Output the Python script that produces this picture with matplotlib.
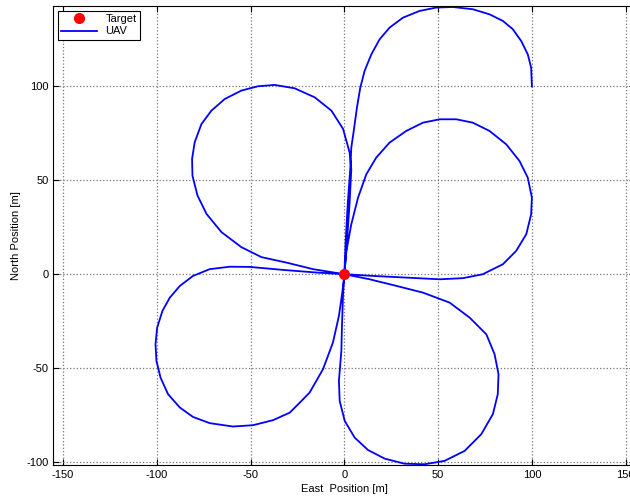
import numpy as np
import matplotlib
matplotlib.use("Agg")
import matplotlib.pyplot as plt

plt.rcParams['font.family'] = ['Liberation Sans', 'DejaVu Sans']
plt.rcParams['axes.unicode_minus'] = False

# target position
target_e = [0.0]
target_n = [0.0]

# UAV path (east, north in metres)
top_e = [100, 99.6, 97.8, 94.3, 89.8, 84.5, 77.4, 68.5, 57.9, 49, 40.1, 31.2, 24.1,
         18.8, 14.4, 10.8, 8.5, 6.7, 5.0, 3.7, 3.2, 1.9, 0.7, 0]
top_n = [100, 110, 117.1, 124.2, 130.5, 134.9, 138.4, 141.1, 142.3, 142, 140.2, 136.6,
         131.3, 125.1, 117.1, 108.3, 99.4, 88.7, 76.3, 67.4, 56.8, 39, 17.7, 0]

south_e = [-0.7, -1.3, -1.6, -2.9, -2.5, 0.2, 5.5, 12.6, 21.5, 32.1, 42.8, 53.4,
           64.1, 73.0, 79.2, 81.8, 82.2, 80.1, 75.7, 66.8, 56.1, 41.9, 27.7, 13.5, 0]
south_n = [-10.6, -28.4, -40.8, -56.8, -67.5, -78.1, -87, -93.6, -98.2, -100.9,
           -101.2, -99.4, -94.1, -85.2, -74.5, -63.9, -53.2, -42.6, -32, -23.1, -15.1,
           -9.8, -6.2, -2.7, 0]

west_e = [-14.9, -32.7, -50.5, -61.1, -71.8, -80.7, -87.7, -93.1, -97, -99.8, -100.7,
          -100.2, -98, -94, -87.7, -80.7, -71.8, -59.4, -48.7, -38, -29.1, -23.8,
          -18.5, -11.4, -6.1, -2.9, -1.1, 0]
west_n = [0.9, 2.3, 3.9, 4.0, 2.7, -0.9, -6.2, -12.5, -19.5, -28.4, -37.3, -46.2,
          -55.1, -63.9, -71, -76, -79.3, -81.1, -80.4, -77.7, -73.7, -68.4, -63,
          -50.6, -36.4, -22.2, -9.8, 0]

ne_e = [1.1, 3.7, 7.3, 11.7, 17, 24.1, 33, 41.9, 50.8, 59.7, 68.5, 77.4, 86.3, 93.4,
        97.8, 100, 99.6, 97, 91.6, 84.5, 73.8, 63.2, 50.8, 33, 15.2, 0]
ne_n = [12.4, 26.6, 40.8, 53.2, 62.1, 70.1, 76.3, 80.7, 82.5, 82.5, 80.7, 76.3, 69.2,
        60.3, 51.4, 40.8, 31.9, 21.3, 12.4, 5.3, 0, -2.1, -2.7, -1.8, -0.9, 0]

nw_e = [-16.7, -30.9, -44.2, -54.9, -65.5, -73.5, -78.3, -81, -81.2, -79.8, -76.2,
        -70.9, -63.8, -54.9, -46, -37.1, -26.5, -15.8, -6.9, -0.7, 2.8, 3.7, 2.8,
        1.6, 0]
nw_n = [2.7, 6.2, 9.1, 14.4, 22.4, 32.1, 41.9, 52.5, 61.4, 70.3, 80, 87.1, 93.3,
        97.8, 100.1, 100.8, 99, 94.2, 87.1, 77.4, 64.8, 55.9, 38.1, 20.4, 0]

uav_e = top_e + south_e + west_e + ne_e + nw_e
uav_n = top_n + south_n + west_n + ne_n + nw_n

fig = plt.figure(figsize=(6.3, 4.99), dpi=100)
ax = fig.add_axes([0.0846, 0.0681, 0.924, 0.919])

ax.plot(target_e, target_n, 'o', color='red', markersize=7, label='Target', zorder=3)
ax.plot(uav_e, uav_n, color='blue', linewidth=1.3, label='UAV', zorder=2,
        solid_joinstyle='round')

ax.set_xlim(-155.2, 155.2)
ax.set_ylim(-101.6, 142.6)
ax.set_xticks([-150, -100, -50, 0, 50, 100, 150])
ax.set_yticks([-100, -50, 0, 50, 100])
ax.grid(True, linestyle=':', color='#777777', linewidth=0.9)
ax.tick_params(direction='in', top=True, right=True, length=4, labelsize=8)
for s in ax.spines.values():
    s.set_linewidth(0.8)

ax.set_xlabel('East  Position [m]', fontsize=8, labelpad=3)
ax.set_ylabel('North Position [m]', fontsize=8, labelpad=4)

leg = ax.legend(loc='upper left', fontsize=8, fancybox=False, framealpha=1,
                edgecolor='black', handlelength=3.2, borderaxespad=0.4,
                borderpad=0.3, labelspacing=0.2)
leg.get_frame().set_linewidth(0.8)

fig.savefig('out.png', dpi=100)
